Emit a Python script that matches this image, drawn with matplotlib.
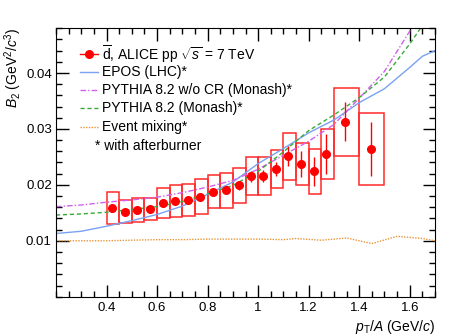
import matplotlib.pyplot as plt
import matplotlib.patches as patches
from matplotlib.ticker import MultipleLocator

plt.rcParams['font.family'] = ['Liberation Sans', 'DejaVu Sans']
plt.rcParams['mathtext.fontset'] = 'custom'
plt.rcParams['mathtext.rm'] = 'Liberation Sans'
plt.rcParams['mathtext.it'] = 'Liberation Sans:italic'

# ALICE anti-deuteron B2 points
pt = [0.422, 0.472, 0.522, 0.573, 0.622, 0.672, 0.722, 0.771, 0.821, 0.871,
      0.923, 0.973, 1.021, 1.071, 1.120, 1.170, 1.220, 1.270, 1.345, 1.446]
b2 = [0.0159, 0.0152, 0.0155, 0.0157, 0.0167, 0.0171, 0.0173, 0.0179, 0.0188, 0.0190,
      0.0199, 0.0215, 0.0216, 0.0228, 0.0251, 0.0237, 0.0224, 0.0255, 0.0313, 0.0264]
stat = [0.0004, 0.0004, 0.0004, 0.0004, 0.0004, 0.0004, 0.0004, 0.0005, 0.0006, 0.0007,
        0.0008, 0.0009, 0.0010, 0.0013, 0.0018, 0.0023, 0.0026, 0.0036, 0.0035, 0.0048]
syst = [0.0029, 0.0021, 0.0021, 0.0020, 0.0027, 0.0029, 0.0029, 0.0032, 0.0029, 0.0031,
        0.0031, 0.0034, 0.0034, 0.0034, 0.0042, 0.0037, 0.0040, 0.0044, 0.0061, 0.0064]
bin_lo = [0.40, 0.45, 0.50, 0.55, 0.60, 0.65, 0.70, 0.75, 0.80, 0.85,
          0.90, 0.95, 1.00, 1.05, 1.10, 1.15, 1.20, 1.25, 1.30, 1.40]
bin_hi = [0.45, 0.50, 0.55, 0.60, 0.65, 0.70, 0.75, 0.80, 0.85, 0.90,
          0.95, 1.00, 1.05, 1.10, 1.15, 1.20, 1.25, 1.30, 1.40, 1.50]

# model curves
x_mod = [0.2, 0.3, 0.4, 0.5, 0.6, 0.7, 0.8, 0.9, 1.0, 1.1, 1.2, 1.3, 1.4, 1.5, 1.6, 1.65, 1.7]
epos = [0.0113, 0.0117, 0.0126, 0.0136, 0.0147, 0.0162, 0.0183, 0.0205, 0.0238, 0.0265,
        0.0293, 0.0316, 0.0347, 0.0372, 0.0410, 0.0430, 0.0440]
pythia_nocr = [0.0161, 0.0164, 0.0169, 0.0173, 0.0178, 0.0186, 0.0196, 0.0208, 0.0228, 0.0253,
               0.0278, 0.0308, 0.0355, 0.0403, 0.0475, 0.0515, 0.0560]
pythia = [0.0146, 0.0148, 0.0151, 0.0156, 0.0161, 0.0170, 0.0184, 0.0199, 0.0224, 0.0259,
          0.0297, 0.0325, 0.0356, 0.0393, 0.0452, 0.0485, 0.0520]

x_mix = [0.2, 0.3, 0.4, 0.5, 0.6, 0.7, 0.8, 0.9, 1.0, 1.1, 1.15, 1.25, 1.35, 1.45, 1.55, 1.65, 1.7]
mixing = [0.0100, 0.0100, 0.0100, 0.0101, 0.0102, 0.0102, 0.0103, 0.0103, 0.0103, 0.0102,
          0.0104, 0.0101, 0.0105, 0.0095, 0.0108, 0.0104, 0.0100]

fig = plt.figure(figsize=(4.73, 3.36), dpi=100)
ax = fig.add_axes([0.1184, 0.117, 0.8013, 0.7988])

c_blue = '#7aa2f2'
c_mag = '#d35ff0'
c_green = '#3aaa3a'
c_orange = '#e8953a'
ls_mag = (0, (4, 1.5, 1, 1.5))
ls_green = (0, (3, 2))
ls_orange = (0, (1, 1))

ax.plot(x_mix, mixing, color=c_orange, lw=1.0, ls=ls_orange)
ax.plot(x_mod, epos, color=c_blue, lw=1.0)
ax.plot(x_mod, pythia_nocr, color=c_mag, lw=1.0, ls=ls_mag)
ax.plot(x_mod, pythia, color=c_green, lw=1.0, ls=ls_green)

for i in range(len(pt)):
    rect = patches.Rectangle((bin_lo[i], b2[i] - syst[i]), bin_hi[i] - bin_lo[i], 2 * syst[i],
                             fill=False, edgecolor='#ff2a2a', lw=1.1)
    ax.add_patch(rect)

ax.errorbar(pt, b2, yerr=stat, fmt='o', color='red', ms=5.5, elinewidth=1.0, capsize=0)

ax.set_xlim(0.2, 1.7)
ax.set_ylim(0.0, 0.048)
ax.xaxis.set_minor_locator(MultipleLocator(0.05))
ax.yaxis.set_minor_locator(MultipleLocator(0.002))
ax.set_xticks([0.4, 0.6, 0.8, 1.0, 1.2, 1.4, 1.6])
ax.set_xticklabels(['0.4', '0.6', '0.8', '1', '1.2', '1.4', '1.6'])
ax.set_yticks([0.01, 0.02, 0.03, 0.04])
ax.set_yticklabels(['0.01', '0.02', '0.03', '0.04'])
ax.tick_params(which='both', direction='in', top=True, right=True, labelsize=9.5)
ax.tick_params(which='major', length=9, width=1)
ax.tick_params(which='minor', length=4.5, width=1)
ax.tick_params(axis='x', pad=4)
ax.tick_params(axis='y', pad=3)

fig.text(13 / 473, 1 - 28 / 336, r'$B_2$ (GeV$^2$/$c^3$)', fontsize=10,
         rotation=90, ha='center', va='top')
ax.set_xlabel(r'$p_{\mathrm{T}}/A$ (GeV/$c$)', fontsize=10)
ax.xaxis.set_label_coords(1.0, -0.08)
ax.xaxis.label.set_ha('right')

# legend drawn by hand (ROOT-like TLegend rows)
labels = [
    r'$\overline{\mathrm{d}}$, ALICE pp $\sqrt{s}$ = 7 TeV',
    'EPOS (LHC)*',
    'PYTHIA 8.2 w/o CR (Monash)*',
    'PYTHIA 8.2 (Monash)*',
    'Event mixing*',
]
styles = [('red', '-'), (c_blue, '-'), (c_mag, ls_mag), (c_green, ls_green), (c_orange, ls_orange)]
row_y = [0.903, 0.836, 0.770, 0.703, 0.632]
x0, x1, xt = 0.063, 0.111, 0.122
for lab, (col, ls), yy in zip(labels, styles, row_y):
    ax.plot([x0, x1], [yy, yy], color=col, ls=ls, lw=1.0, transform=ax.transAxes, clip_on=False)
    if col == 'red':
        ax.plot([(x0 + x1) / 2], [yy], 'o', color='red', ms=5.5, transform=ax.transAxes)
    ax.text(xt, yy, lab, transform=ax.transAxes, fontsize=10, va='center', ha='left')
ax.text(0.103, 0.561, '* with afterburner', transform=ax.transAxes, fontsize=10,
        va='center', ha='left')

fig.savefig('out.png', dpi=100)
